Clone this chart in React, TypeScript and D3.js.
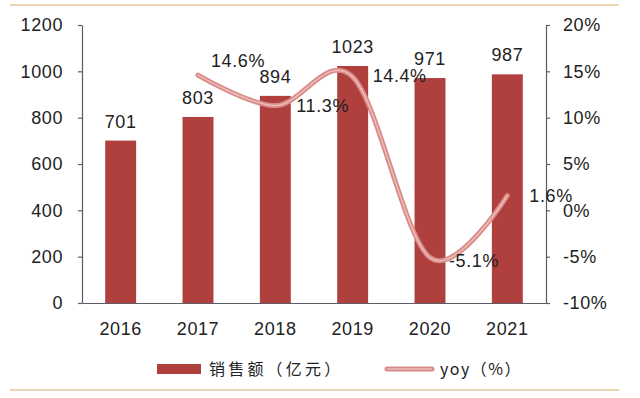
import React, { useEffect, useRef } from 'react'
import * as d3 from 'd3'

const years = ['2016', '2017', '2018', '2019', '2020', '2021']
const sales = [701, 803, 894, 1023, 971, 987]
const yoyYears = ['2017', '2018', '2019', '2020', '2021']
const yoy = [14.6, 11.3, 14.4, -5.1, 1.6]
const leftTicks = [0, 200, 400, 600, 800, 1000, 1200]
const rightTicks = [-10, -5, 0, 5, 10, 15, 20]

const W = 640
const H = 398
const FONT = '"Liberation Sans", Arial, sans-serif'
const BAR = '#B0403D'
const LINE_OUT = '#D88C89'
const LINE_IN = '#EDBBB8'
const AXIS = '#5C5C68'
const TEXT = '#222222'

export default function App() {
  const svgRef = useRef<SVGSVGElement>(null)

  useEffect(() => {
    const svg = d3.select(svgRef.current)
    svg.selectAll('*').remove()

    const left = 82
    const right = 546
    const top = 25
    const bottom = 303

    const x = d3.scaleBand().domain(years).range([left, right]).paddingInner(0.6).paddingOuter(0.3)
    const yL = d3.scaleLinear().domain([0, 1200]).range([bottom, top])
    const yR = d3.scaleLinear().domain([-10, 20]).range([bottom, top])

    svg.append('rect').attr('width', W).attr('height', H).attr('fill', '#ffffff')

    // frame lines top and bottom
    svg.append('line').attr('x1', 10).attr('x2', 619).attr('y1', 5).attr('y2', 5)
      .attr('stroke', '#E3C79A').attr('stroke-width', 1.5)
    svg.append('line').attr('x1', 10).attr('x2', 619).attr('y1', 390).attr('y2', 390)
      .attr('stroke', '#E3C79A').attr('stroke-width', 1.5)

    // bars
    svg.append('g').selectAll('rect').data(sales).enter().append('rect')
      .attr('x', (d, i) => x(years[i]) as number)
      .attr('y', (d) => yL(d))
      .attr('width', x.bandwidth())
      .attr('height', (d) => yL(0) - yL(d))
      .attr('fill', BAR)

    const txt = (sel: any) => sel.attr('fill', TEXT).style('font-family', FONT)
      .style('font-size', '18px').style('letter-spacing', '0.6px')

    // axes
    const styleAxis = (g: any) => {
      g.selectAll('path, line').attr('stroke', AXIS).attr('stroke-width', 1.2)
      g.selectAll('text').call(txt)
    }

    svg.append('g').attr('transform', `translate(${left},0)`)
      .call(d3.axisLeft(yL).tickValues(leftTicks).tickSize(4).tickSizeOuter(0).tickPadding(15)
        .tickFormat(d3.format('d')))
      .call(styleAxis)

    svg.append('g').attr('transform', `translate(${right},0)`)
      .call(d3.axisRight(yR).tickValues(rightTicks).tickSize(4).tickSizeOuter(0).tickPadding(13)
        .tickFormat((d: any) => `${d}%`))
      .call(styleAxis)

    svg.append('g').attr('transform', `translate(0,${bottom})`)
      .call(d3.axisBottom(x).tickSize(0).tickPadding(19))
      .call(styleAxis)

    // bar labels
    svg.append('g').selectAll('text').data(sales).enter().append('text')
      .attr('x', (d, i) => (x(years[i]) as number) + x.bandwidth() / 2)
      .attr('y', (d) => yL(d) - 13)
      .attr('text-anchor', 'middle')
      .call(txt)
      .text((d) => d)

    // yoy line
    const cx = (i: number) => (x(yoyYears[i]) as number) + x.bandwidth() / 2
    const line = d3.line<number>()
      .x((d, i) => cx(i))
      .y((d) => yR(d))
      .curve(d3.curveCardinal.tension(0))

    svg.append('path').datum(yoy).attr('d', line).attr('fill', 'none')
      .attr('stroke', LINE_OUT).attr('stroke-width', 5).attr('stroke-linecap', 'round')
    svg.append('path').datum(yoy).attr('d', line).attr('fill', 'none')
      .attr('stroke', LINE_IN).attr('stroke-width', 1.5).attr('stroke-linecap', 'round')

    // yoy labels
    const offs = [[13, -14], [21, 0], [20, -1], [19, 3], [22, 0]]
    svg.append('g').selectAll('text').data(yoy).enter().append('text')
      .attr('x', (d, i) => cx(i) + offs[i][0])
      .attr('y', (d, i) => yR(d) + offs[i][1])
      .attr('dy', '0.35em')
      .call(txt)
      .text((d) => `${d.toFixed(1)}%`)

    // legend
    const lg = svg.append('g')
    lg.append('rect').attr('x', 157).attr('y', 364).attr('width', 44).attr('height', 10).attr('fill', BAR)
    lg.append('text').attr('x', 209).attr('y', 369).attr('dy', '0.35em').attr('fill', TEXT)
      .style('font-family', '"Noto Sans CJK SC", sans-serif').style('font-size', '16px')
      .style('letter-spacing', '3.2px')
      .text('销售额（亿元）')
    lg.append('line').attr('x1', 387).attr('x2', 432).attr('y1', 369).attr('y2', 369)
      .attr('stroke', LINE_OUT).attr('stroke-width', 5).attr('stroke-linecap', 'round')
    lg.append('line').attr('x1', 387).attr('x2', 432).attr('y1', 369).attr('y2', 369)
      .attr('stroke', LINE_IN).attr('stroke-width', 1.5)
    lg.append('text').attr('x', 440).attr('y', 369).attr('dy', '0.35em').attr('fill', TEXT)
      .style('font-family', '"Noto Sans CJK SC", sans-serif').style('font-size', '16px')
      .style('letter-spacing', '1.5px')
      .text('yoy（%）')
  }, [])

  return (
    <svg ref={svgRef} width={W} height={H}
      style={{ position: 'absolute', left: 0, top: 0, display: 'block' }} />
  )
}
